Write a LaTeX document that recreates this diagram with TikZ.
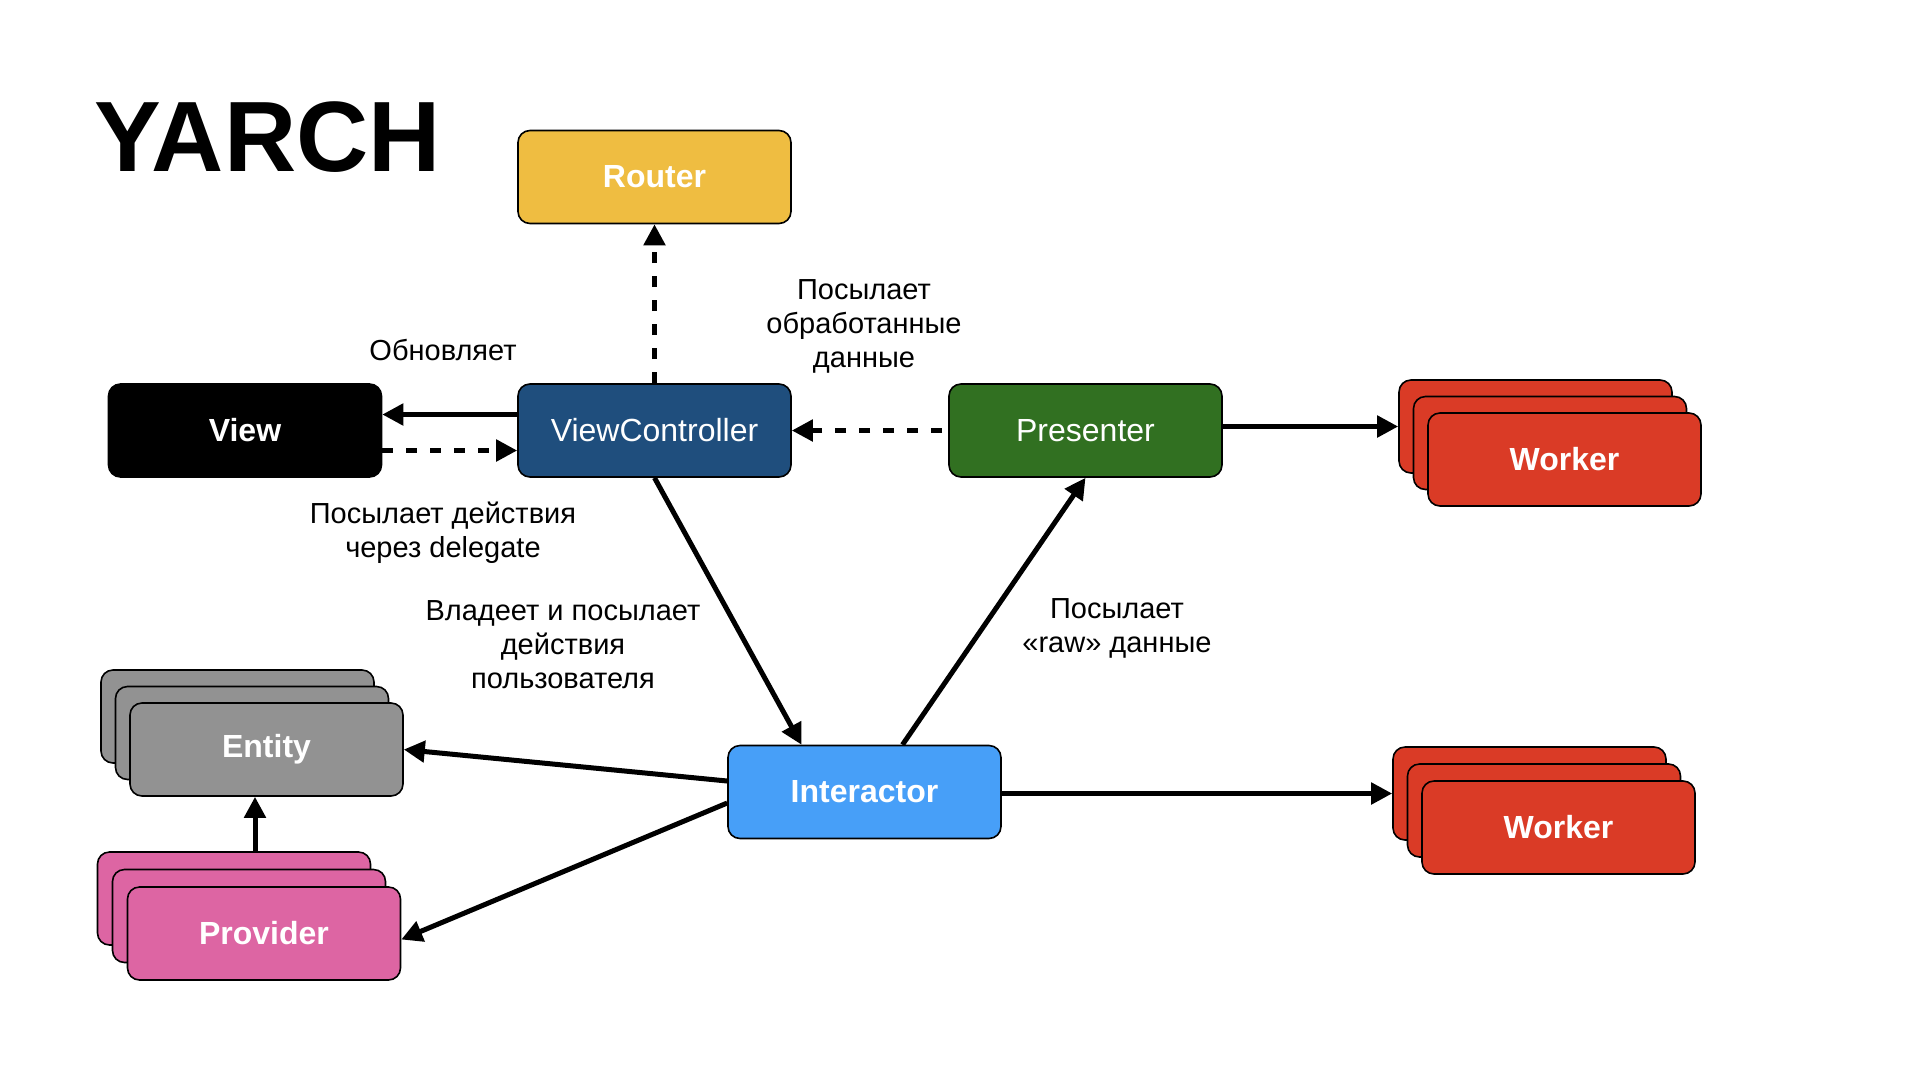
\documentclass[tikz,border=0pt]{standalone}
\usepackage{fontspec}
\setmainfont{Liberation Sans}
\definecolor{routeryellow}{RGB}{239,189,65}
\definecolor{vcblue}{RGB}{31,78,125}
\definecolor{presgreen}{RGB}{49,112,33}
\definecolor{workerred}{RGB}{218,59,38}
\definecolor{entitygray}{RGB}{146,146,146}
\definecolor{provpink}{RGB}{221,101,163}
\definecolor{interblue}{RGB}{71,159,248}
\usetikzlibrary{arrows.meta, positioning}

\begin{document}
\begin{tikzpicture}[x=1pt, y=-1pt,
            box/.style={draw=black, line width=1.6pt, rounded corners=12pt,
                minimum width=273pt, minimum height=93pt, text=white,
                font=\fontsize{32}{36}\selectfont\bfseries},
            plain/.style={font=\fontsize{32}{36}\selectfont},
            lbl/.style={font=\fontsize{29}{34}\selectfont, align=center},
            arr/.style={-{Triangle[length=21pt,width=21pt]}, line width=5pt},
            darr/.style={arr, dash pattern=on 11pt off 13pt}
          ]
          \useasboundingbox (0,0) rectangle (1920,1080);
          \node[anchor=base west, inner sep=0pt,
          font=\fontsize{100}{104}\selectfont\bfseries] (title) at (94,171) {YARCH};
          \node[box, fill=routeryellow] (router) at (654.5,177) {Router};
          \node[box, fill=black] (view) at (245,430.5) {View};
          \node[box, plain, fill=vcblue] (vc) at (654.5,430.5) {ViewController};
          \node[box, plain, fill=presgreen] (pres) at (1085.5,430.5) {Presenter};
          \node[box, fill=interblue] (inter) at (864.5,792) {Interactor};
          % stacked boxes
          \node[box, fill=workerred] (wrk1c) at (1535.5,426.5) {};
          \node[box, fill=workerred] (wrk1b) at ([shift={(14.5,16.5)}]wrk1c) {};
          \node[box, fill=workerred] (wrk1) at ([shift={(14.5,16.5)}]wrk1b) {Worker};
          \node[box, fill=workerred] (wrk2c) at (1529.5,793.5) {};
          \node[box, fill=workerred] (wrk2b) at ([shift={(14.5,17)}]wrk2c) {};
          \node[box, fill=workerred] (wrk2) at ([shift={(14.5,17)}]wrk2b) {Worker};
          \node[box, fill=entitygray] (ent3) at (237.5,716.5) {};
          \node[box, fill=entitygray] (ent2) at ([shift={(14.5,16.5)}]ent3) {};
          \node[box, fill=entitygray] (ent) at ([shift={(14.5,16.5)}]ent2) {Entity};
          \node[box, fill=provpink] (prov3) at (234,898.5) {};
          \node[box, fill=provpink] (prov2) at ([shift={(15,17.5)}]prov3) {};
          \node[box, fill=provpink] (prov) at ([shift={(15,17.5)}]prov2) {Provider};
          % labels
          \node[lbl] (updlbl) at (443,350) {Обновляет};
          \node[lbl] (proclbl) at (864,326) {Посылает\\обработанные\\данные};
          \node[lbl] (dellbl) at (443,533) {Посылает действия\\через delegate};
          \node[lbl] (ownlbl) at (563,645) {Владеет и посылает\\действия\\пользователя};
          \node[lbl] (rawlbl) at (1117,628) {Посылает\\«raw» данные};
          % connectors
          \draw[arr] ([yshift=16pt]vc.west) -- ([yshift=16pt]view.east);
          \draw[darr] ([yshift=-20pt]view.east) -- ([yshift=-20pt]vc.west);
          \draw[darr] (vc) -- (router);
          \draw[darr] ([xshift=-6pt]pres.west) -- (vc.east);
          \draw[arr] (pres.east |- wrk1c) -- (wrk1c.west);
          \draw[arr] (vc.south) -- ([xshift=-63pt]inter.north);
          \draw[arr] ([xshift=38pt]inter.north) -- (pres.south);
          \draw[arr] ([yshift=11pt]inter.west) -- (ent.east);
          \draw[arr] ([yshift=-11pt]inter.west) -- ([yshift=-6pt]prov.east);
          \draw[arr] (inter.east |- wrk2c) -- (wrk2c.west);
          \draw[arr] ([xshift=21pt]prov3.north) -- ([xshift=21pt]prov3.north |- ent.south);
        \end{tikzpicture}
\end{document}
